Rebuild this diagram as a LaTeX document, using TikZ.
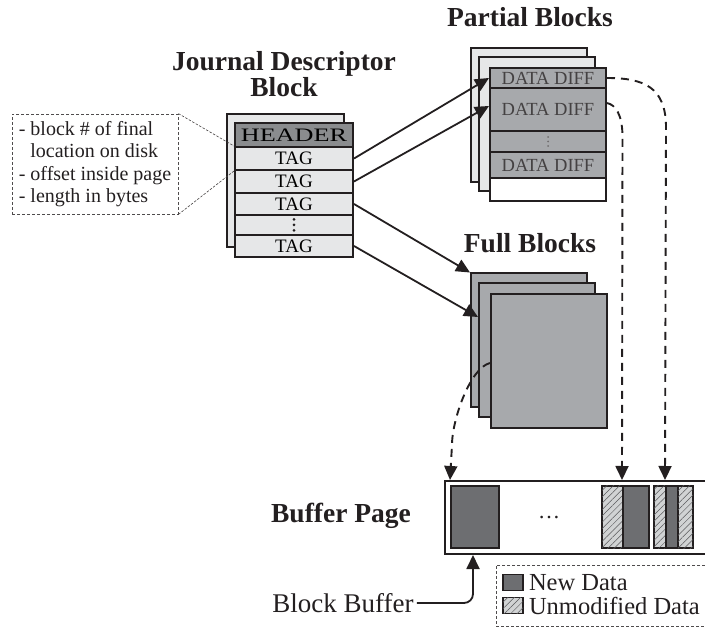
\documentclass[tikz,border=0pt]{standalone}
\usepackage{fontspec}
\usepackage{graphicx}
\setmainfont{Liberation Serif}
\usetikzlibrary{arrows.meta,patterns.meta}

\definecolor{ink}{HTML}{231F20}
\definecolor{paleg}{HTML}{E6E7E8}
\definecolor{midg}{HTML}{A7A9AC}
\definecolor{headg}{HTML}{8A8C8E}
\definecolor{darkg}{HTML}{6D6E71}
\definecolor{hatchg}{HTML}{D1D3D4}
\definecolor{hatchline}{HTML}{58595B}

\tikzset{
  blk/.style={draw=ink, line width=2pt, inner sep=0pt},
  sheet/.style={blk, fill=paleg},
  tagcell/.style={blk, fill=paleg, minimum width=118pt, font=\fontsize{19}{19}\selectfont},
  diffcell/.style={blk, fill=midg, minimum width=116pt, font=\fontsize{18.5}{18.5}\selectfont, text=ink!85},
  fullsheet/.style={blk, fill=midg, minimum width=116pt, minimum height=134pt},
  title/.style={font=\fontsize{27.5}{24}\selectfont\bfseries, text=ink, align=center},
  newdata/.style={blk, fill=darkg},
  olddata/.style={blk, fill=hatchg,
    postaction={pattern={Lines[angle=45,distance=4.5pt,line width=0.5pt]}, pattern color=hatchline}},
  link/.style={draw=ink, line width=1.8pt, -{Triangle[length=14pt,width=13pt]}},
  flow/.style={draw=ink, line width=1.9pt, dash pattern=on 8pt off 6pt,
    -{Triangle[length=14pt,width=13pt]}},
  guide/.style={draw=ink!85, line width=0.6pt, dash pattern=on 2.5pt off 1.5pt},
  notebox/.style={draw=ink!80, line width=0.8pt, dash pattern=on 3pt off 2pt,
    minimum width=166pt, minimum height=100pt, inner sep=0pt, align=left,
    font=\fontsize{20}{22.5}\selectfont, text=ink},
  bigdot/.style={fill=ink, radius=1.5pt},
  smalldot/.style={fill=ink!65, radius=1pt},
}

\begin{document}
\begin{tikzpicture}[x=1pt,y=-1pt]
\clip (0,0) rectangle (705,628);

% ---------------- journal descriptor block ----------------
\node[title] (jtitle) at (284,74) {Journal Descriptor\\Block};
\node[sheet, minimum width=117pt, minimum height=133pt] (jback) at (285.5,180.5) {};
\node[tagcell, fill=headg, minimum height=24pt] (hdr) at (294,135) {\scalebox{1.38}[1]{HEADER}};
\node[tagcell, minimum height=23pt] (tag1) at (294,158.5) {TAG};
\node[tagcell, minimum height=23pt] (tag2) at (294,181.5) {TAG};
\node[tagcell, minimum height=22pt] (tag3) at (294,204) {TAG};
\node[tagcell, minimum height=20pt] (tagdots) at (294,225) {};
\foreach \dy in {-5.5,0,5.5} \fill[bigdot] ([yshift=\dy pt]tagdots.center) circle;
\node[tagcell, minimum height=22pt] (tag4) at (294,246) {TAG};

% tag contents
\node[notebox] (note) at (95,164)
  {- block \# of final\\\hspace*{11.5pt}location on disk\\- offset inside page\\- length in bytes};
\draw[guide] (note.north east) -- (tag1.north west);
\draw[guide] (note.south east) -- (tag1.south west);

% ---------------- partial blocks ----------------
\node[title] (ptitle) at (530,17) {Partial Blocks};
\node[sheet, minimum width=116pt, minimum height=134pt] (pback) at (529,115) {};
\node[sheet, minimum width=116pt, minimum height=134pt] (pmid) at (537,124) {};
\node[diffcell, minimum height=20pt] (d1) at (548,78) {DATA DIFF};
\node[diffcell, minimum height=43pt] (d2) at (548,109.5) {DATA DIFF};
\node[diffcell, minimum height=21pt] (ddots) at (548,141.5) {};
\foreach \dy in {-4.5,0,4.5} \fill[smalldot] ([yshift=\dy pt]ddots.center) circle;
\node[diffcell, minimum height=26pt] (d3) at (548,165) {DATA DIFF};
\node[diffcell, fill=white, minimum height=23pt] (dend) at (548,189.5) {};

% ---------------- full blocks ----------------
\node[title] (ftitle) at (530,243) {Full Blocks};
\node[fullsheet] (f1) at (529,340.5) {};
\node[fullsheet] (f2) at (537,350) {};
\node[fullsheet] (f3) at (549,361) {};

% ---------------- buffer page ----------------
\node[title, anchor=center] (btitle) at (341,516) {Buffer Page};
\node[blk, fill=white, minimum width=280pt, minimum height=73pt] (bufpage) at (585,517.5) {};
\node[newdata, minimum width=48pt, minimum height=62pt] (bbuf) at (475,517) {};
\node[font=\fontsize{22}{22}\selectfont, text=ink] (gap) at (549,518) {\dots};
\node[olddata, minimum width=21pt, minimum height=62pt] (hatcha) at (612.5,517) {};
\node[newdata, minimum width=26pt, minimum height=62pt] (darka) at (636,517) {};
\node[olddata, minimum width=12pt, minimum height=62pt] (hatchb) at (660,517) {};
\node[newdata, minimum width=12pt, minimum height=62pt] (darkb) at (672,517) {};
\node[olddata, minimum width=15pt, minimum height=62pt] (hatchc) at (685.5,517) {};

% legend
\node[draw=ink!80, line width=0.8pt, dash pattern=on 3pt off 2pt, minimum width=224pt,
      minimum height=61pt, inner sep=0pt] (legend) at (608,595.5) {};
\node[newdata, line width=1.6pt, minimum width=20pt, minimum height=16pt] (lnew) at (513,582.5) {};
\node[olddata, line width=1.6pt, minimum width=20pt, minimum height=16pt] (lold) at (513,605.5) {};
\node[anchor=west, inner sep=0pt, font=\fontsize{24.5}{24.5}\selectfont, text=ink]
  (lnewtxt) at ([xshift=5pt]lnew.east) {New Data};
\node[anchor=west, inner sep=0pt, font=\fontsize{24.5}{24.5}\selectfont, text=ink]
  (loldtxt) at ([xshift=5pt]lold.east) {Unmodified Data};

% block buffer callout
\node[font=\fontsize{27}{27}\selectfont, text=ink, inner sep=3pt] (bbtext) at (343,603) {Block Buffer};
\draw[link, rounded corners=9pt] (bbtext.east) -| ([xshift=-2pt]bbuf.south |- bufpage.south);

% ---------------- connectors ----------------
\draw[link] (tag1.east) -- (d1.west);
\draw[link] (tag2.east) -- ([yshift=3.5pt]d2.west);
\draw[link] (tag3.east) -- (f1.north west);
\draw[link] (tag4.east) -- ([yshift=-35pt]f2.north west);

\draw[flow] (d1.east) .. controls (645,78) and (665,88) .. (666,125)
  -- (darkb.north west |- bufpage.north);
\draw[flow] ([yshift=6.5pt]d2.east) .. controls (616,105) and (622,115) .. (622.5,135)
  -- (darka.north west |- bufpage.north);
\draw[flow] ([yshift=-2pt]f3.west) .. controls (470,368) and (452,420) .. (452,445)
  -- (bbuf.north west |- bufpage.north);
\end{tikzpicture}
\end{document}
